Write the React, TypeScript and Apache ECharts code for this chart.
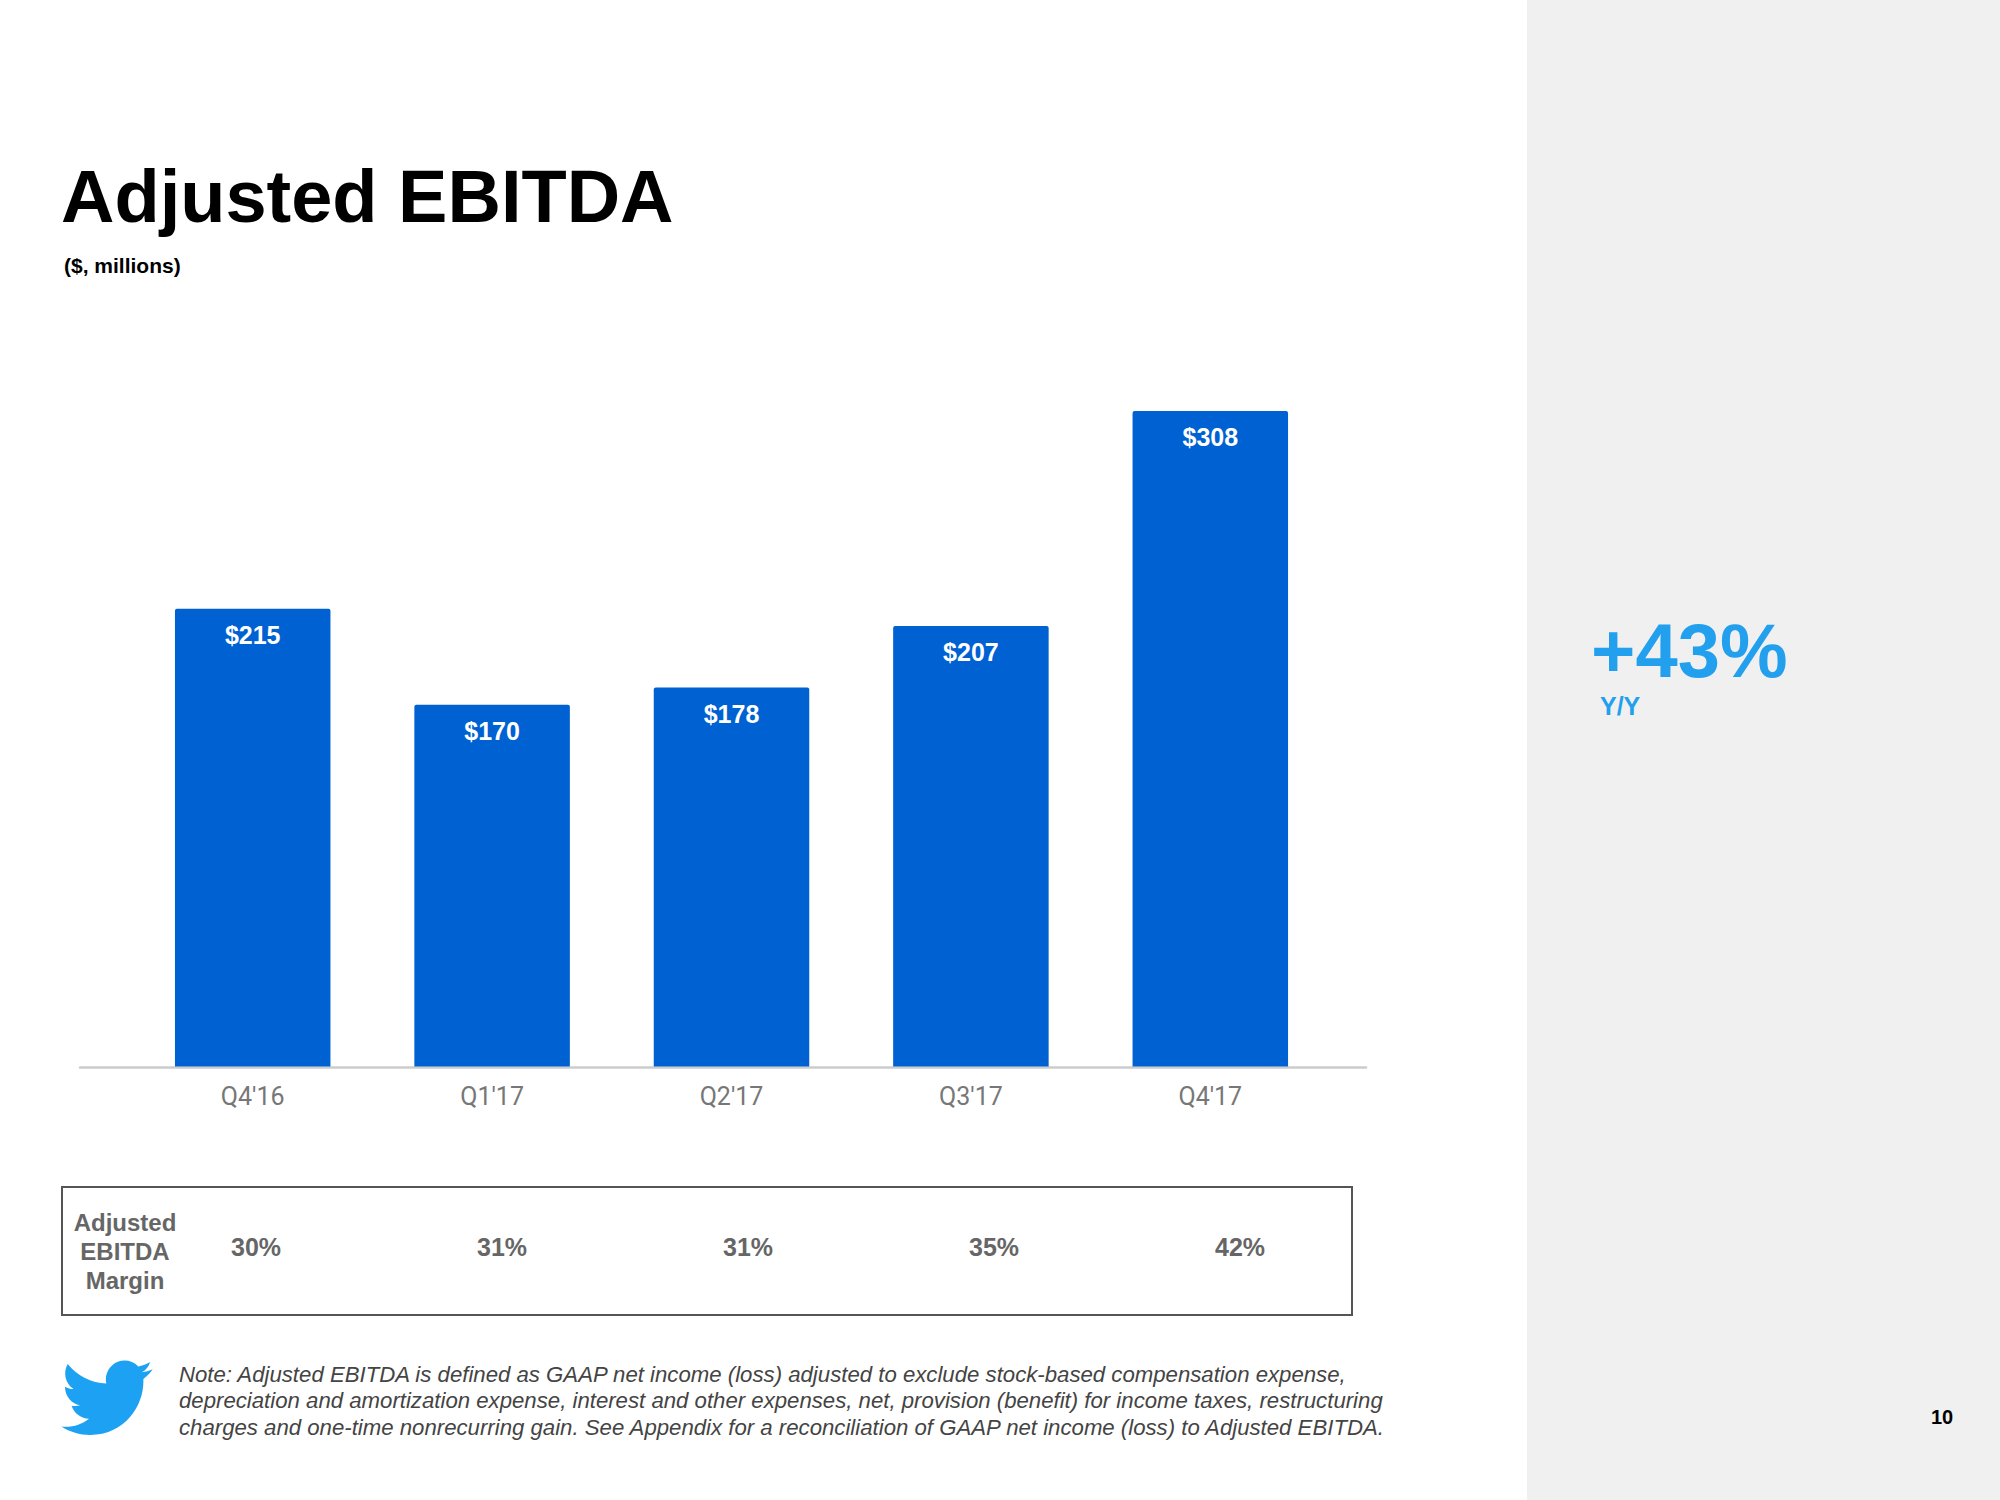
import React, { useEffect, useRef } from "react";
import * as echarts from "echarts";

const categories = ["Q4'16", "Q1'17", "Q2'17", "Q3'17", "Q4'17"];
const ebitda = [215, 170, 178, 207, 308];
const margins = [30, 31, 31, 35, 42];

const titleText = "Adjusted EBITDA";
const subtitleText = "($, millions)";
const growthText = "+43%";
const growthSub = "Y/Y";
const marginLabel = "Adjusted\nEBITDA\nMargin";
const noteLines = [
  "Note: Adjusted EBITDA is defined as GAAP net income (loss) adjusted to exclude stock-based compensation expense,",
  "depreciation and amortization expense, interest and other expenses, net, provision (benefit) for income taxes, restructuring",
  "charges and one-time nonrecurring gain. See Appendix for a reconciliation of GAAP net income (loss) to Adjusted EBITDA.",
];
const pageNumber = "10";

const BIRD =
  "M221.95,51.29c0.15,2.17,0.15,4.34,0.15,6.53c0,66.73-50.8,143.69-143.69,143.69v-0.04C50.97,201.51,24.1,193.65,1,178.83c3.99,0.48,8,0.72,12.020.73c22.74,0.02,44.83-7.61,62.72-21.66c-21.61-0.41-40.56-14.5-47.18-35.07c7.57,1.46,15.37,1.16,22.8-0.87C27.8,117.2,10.85,96.5,10.85,72.46c0-0.22,0-0.43,0-0.64c7.02,3.91,14.88,6.08,22.92,6.32C11.58,63.31,4.74,33.79,18.14,10.71c25.64,31.55,63.47,50.730,104.08,52.76c-4.07-17.54,1.49-35.92,14.61-48.25c20.34-19.12,52.33-18.14,71.45,2.19c11.31-2.23,22.15-6.38,32.07-12.26c-3.77,11.69-11.66,21.62-22.2,27.93c10.01-1.18,19.79-3.86,29-7.95C240.37,35.29,231.83,44.14,221.95,51.29z";

let registered = false;

export default function App() {
  const ref = useRef<HTMLDivElement>(null);

  useEffect(() => {
    if (!ref.current) return;
    if (!registered) {
      echarts.graphic.registerShape("twbird", echarts.graphic.extendPath(BIRD.replace("12.020.73", "12.02,0.73").replace("50.730,104.08", "50.73,104.08"), {}) as any);
      registered = true;
    }
    const chart = echarts.init(ref.current, null, { renderer: "svg" });
    const helv = "'Liberation Sans', Arial, Helvetica, sans-serif";
    const baseY = 1066.5;
    const pxPerUnit = 2.1286;
    const yMax = 320;

    chart.setOption({
      animation: false,
      backgroundColor: "#ffffff",
      grid: [
        {
          left: 133,
          width: 1197,
          bottom: 1500 - baseY,
          height: yMax * pxPerUnit,
        },
        {
          left: 80,
          width: 1286,
          bottom: 1500 - baseY - 1,
          height: 100,
        },
        {
          left: 133,
          width: 1230,
          bottom: 265.5,
          height: 10,
        },
      ],
      xAxis: [
        {
          type: "category",
          gridIndex: 0,
          data: categories,
          axisLine: { show: false },
          axisTick: { show: false },
          axisLabel: {
            margin: 17,
            color: "#777777",
            fontFamily: "Roboto, sans-serif",
            fontSize: 25,
          },
        },
        {
          type: "value",
          gridIndex: 1,
          min: 0,
          max: 1,
          axisLine: { show: true, lineStyle: { color: "#cccccc", width: 2.5 } },
          axisTick: { show: false },
          axisLabel: { show: false },
          splitLine: { show: false },
        },
        {
          type: "category",
          gridIndex: 2,
          data: margins.map((m) => `${m}%`),
          axisLine: { show: false },
          axisTick: { show: false },
          axisLabel: {
            margin: 0,
            color: "#666666",
            fontFamily: helv,
            fontWeight: "bold",
            fontSize: 25,
            lineHeight: 25,
          },
        },
      ],
      yAxis: [
        { type: "value", gridIndex: 0, min: 0, max: yMax, show: false },
        { type: "value", gridIndex: 1, min: 0, max: 1, show: false },
        { type: "value", gridIndex: 2, min: 0, max: 100, show: false },
      ],
      series: [
        {
          type: "bar",
          xAxisIndex: 0,
          yAxisIndex: 0,
          data: ebitda,
          barWidth: 155.5,
          itemStyle: { color: "#0061d3", borderRadius: [2, 2, 0, 0] },
          label: {
            show: true,
            position: "insideTop",
            distance: 14,
            formatter: (p: any) => `$${p.value}`,
            color: "#ffffff",
            fontFamily: helv,
            fontWeight: "bold",
            fontSize: 25,
          },
          silent: true,
          z: 3,
        },
        {
          type: "line",
          xAxisIndex: 1,
          yAxisIndex: 1,
          data: [],
          silent: true,
        },
        {
          type: "scatter",
          xAxisIndex: 2,
          yAxisIndex: 2,
          data: margins,
          symbolSize: 0,
          silent: true,
        },
      ],
      graphic: [
        {
          type: "rect",
          shape: { x: 1527, y: 0, width: 473, height: 1500 },
          style: { fill: "#f0f0f0" },
          z: -10,
          silent: true,
        },
        {
          type: "text",
          x: 61,
          y: 196,
          style: {
            text: titleText,
            fill: "#000000",
            font: `bold 74px ${helv}`,
            verticalAlign: "middle",
          },
        },
        {
          type: "text",
          x: 64,
          y: 265,
          style: {
            text: subtitleText,
            fill: "#000000",
            font: `bold 21px ${helv}`,
            verticalAlign: "middle",
          },
        },
        {
          type: "text",
          x: 1591,
          y: 650,
          style: {
            text: growthText,
            fill: "#22a0ee",
            font: `bold 76px ${helv}`,
            verticalAlign: "middle",
          },
        },
        {
          type: "text",
          x: 1600,
          y: 706,
          style: {
            text: growthSub,
            fill: "#22a0ee",
            font: `bold 25px ${helv}`,
            verticalAlign: "middle",
          },
        },
        {
          type: "rect",
          shape: { x: 62, y: 1187, width: 1290, height: 128 },
          style: { fill: "none", stroke: "#555555", lineWidth: 2 },
        },
        {
          type: "text",
          x: 125,
          y: 1251,
          style: {
            text: marginLabel,
            fill: "#666666",
            font: `bold 24px ${helv}`,
            align: "center",
            verticalAlign: "middle",
            lineHeight: 29,
          },
        },
        {
          type: "twbird",
          x: 61,
          y: 1360,
          scaleX: 0.371,
          scaleY: 0.372,
          style: { fill: "#1da1f2" },
        },
        ...noteLines.map((line, i) => ({
          type: "text",
          x: 179,
          y: 1374 + i * 26.5,
          style: {
            text: line,
            fill: "#444444",
            font: `italic 22.2px ${helv}`,
            verticalAlign: "middle",
          },
        })),
        {
          type: "text",
          x: 1942,
          y: 1417,
          style: {
            text: pageNumber,
            fill: "#000000",
            font: `bold 20px ${helv}`,
            align: "center",
            verticalAlign: "middle",
          },
        },
      ],
    });

    return () => chart.dispose();
  }, []);

  return (
    <div
      ref={ref}
      style={{ position: "fixed", left: 0, top: 0, width: 2000, height: 1500 }}
    />
  );
}
